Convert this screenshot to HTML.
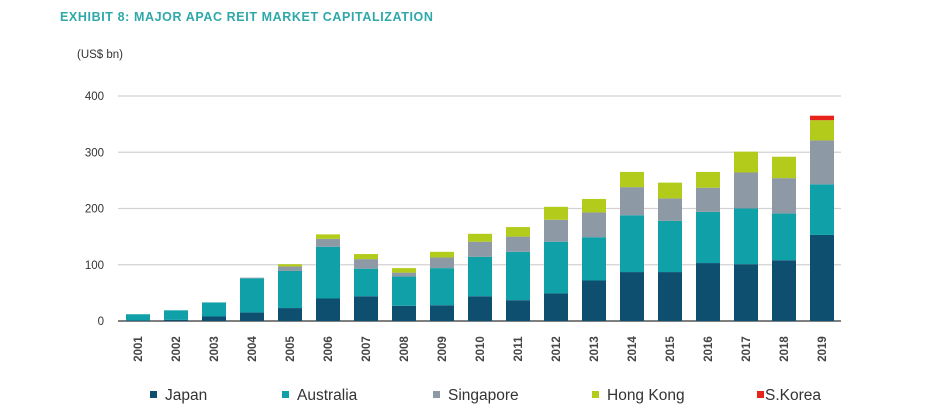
<!DOCTYPE html>
<html><head><meta charset="utf-8"><style>
body{margin:0;background:#fff;width:937px;height:415px;overflow:hidden;font-family:"Liberation Sans",Arial,sans-serif}
</style></head><body>
<svg id="chart" width="937" height="415">
<text x="60" y="21" font-size="12.5" letter-spacing="0.6" font-weight="bold" fill="#2fa8aa">EXHIBIT 8: MAJOR APAC REIT MARKET CAPITALIZATION</text>
<text x="77" y="58" font-size="11.5" fill="#333">(US$ bn)</text>
<g id="grid"></g><g id="bars"></g><g id="xlabels"></g><g id="legend"></g>
</svg>
<script>
const years=["2001","2002","2003","2004","2005","2006","2007","2008","2009","2010","2011","2012","2013","2014","2015","2016","2017","2018","2019"];
const japan=[1,2,8,15,23,40,44,27,28,44,37,49,72,87,87,103,101,108,153];
const australia=[11,17,25,61,66,92,49,52,66,70,86,92,77,101,91,91,99,83,90];
const singapore=[0,0,0,1,8,14,17,7,19,27,27,39,44,50,40,43,64,63,78];
const hongKong=[0,0,0,0,4,8,9,8,10,14,17,23,24,27,28,28,37,38,36];
const sKorea=[0,0,0,0,0,0,0,0,0,0,0,0,0,0,0,0,0,0,8];
const yTicks=[0,100,200,300,400];
const seriesNames=["Japan","Australia","Singapore","Hong Kong","S.Korea"];
const colors=["#0e4f6f","#10a0a8","#8d99a4","#b3cb1a","#e8231b"];
const NS="http://www.w3.org/2000/svg";
const y=v=>321-v*0.5625;
const x=i=>138+i*38;
const grid=document.getElementById('grid');
yTicks.forEach(t=>{
  const l=document.createElementNS(NS,'line');
  l.setAttribute('x1',118);l.setAttribute('x2',841);l.setAttribute('y1',y(t));l.setAttribute('y2',y(t));
  l.setAttribute('stroke',t===0?'#555':'#d2d2d2');l.setAttribute('stroke-width',t===0?1.5:1.2);
  
  
  grid.appendChild(l);
  const tx=document.createElementNS(NS,'text');
  tx.setAttribute('x',104);tx.setAttribute('y',y(t)+4);tx.setAttribute('text-anchor','end');
  tx.setAttribute('font-size','11.5');tx.setAttribute('fill','#333');tx.textContent=t;
  
  
  grid.appendChild(tx);
});
const series=[japan,australia,singapore,hongKong,sKorea];
const bars=document.getElementById('bars');
years.forEach((yr,i)=>{
  let base=0;
  series.forEach((s,k)=>{
    const v=s[i]; if(v<=0) return;
    const r=document.createElementNS(NS,'rect');
    r.setAttribute('x',x(i)-12);r.setAttribute('width',24);
    r.setAttribute('y',y(base+v));r.setAttribute('height',v*0.5625);
    r.setAttribute('fill',colors[k]);
    
    
    bars.appendChild(r);
    base+=v;
  });
  const t=document.createElementNS(NS,'text');
  t.setAttribute('transform','translate('+(x(i)+4)+',349) rotate(-90)');
  t.setAttribute('text-anchor','middle');t.setAttribute('font-size','11.5');t.setAttribute('font-weight','bold');t.setAttribute('fill','#444');
  t.textContent=yr;
  
  
  document.getElementById('xlabels').appendChild(t);
});
const lx=[150,282,433,592,757];
const lg=document.getElementById('legend');
seriesNames.forEach((n,k)=>{
  const g=document.createElementNS(NS,'g');
  
  
  const r=document.createElementNS(NS,'rect');
  r.setAttribute('x',lx[k]);r.setAttribute('y',391);r.setAttribute('width',7);r.setAttribute('height',7);r.setAttribute('fill',colors[k]);
  g.appendChild(r);
  const t=document.createElementNS(NS,'text');
  t.setAttribute('x',lx[k]+(k===4?8:15));t.setAttribute('y',400);t.setAttribute('font-size','15.5');t.setAttribute('fill','#333');
  t.textContent=n;g.appendChild(t);
  lg.appendChild(g);
});
</script>
</body></html>
